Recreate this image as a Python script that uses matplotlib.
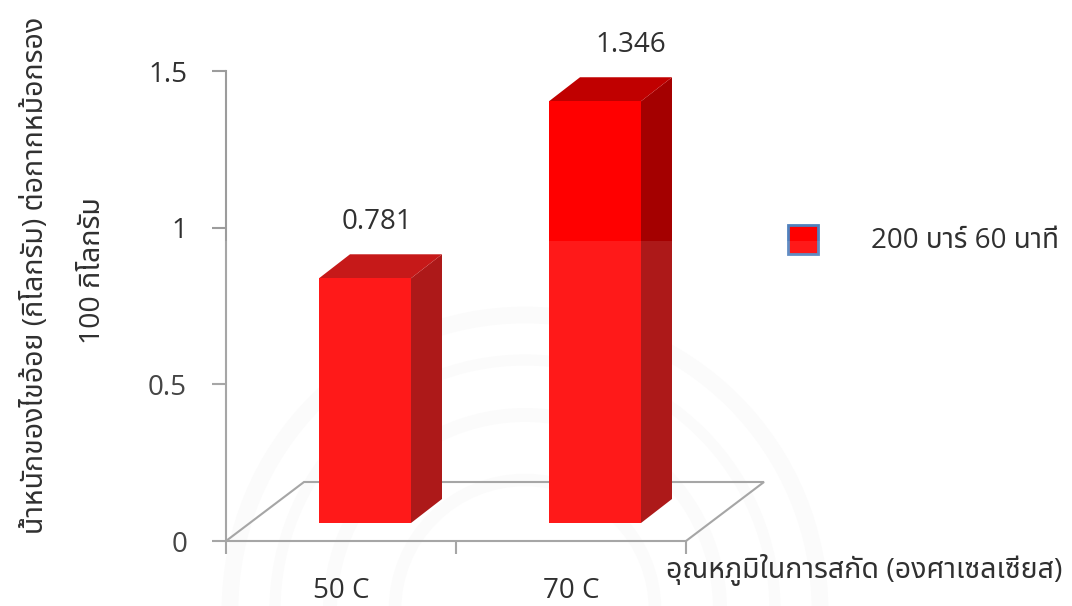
import matplotlib
matplotlib.use("Agg")
import matplotlib.pyplot as plt
from matplotlib.patches import Circle, Polygon, Rectangle
import logging
logging.getLogger("matplotlib.font_manager").setLevel(logging.ERROR)

# ---- data ----
categories = ["50 C", "70 C"]
values = [0.781, 1.346]
value_labels = ["0.781", "1.346"]
yticks = [0, 0.5, 1, 1.5]
ytick_labels = ["0", "0.5", "1", "1.5"]
series_name = "200 บาร์ 60 นาที"
xlabel = "อุณหภูมิในการสกัด (องศาเซลเซียส)"
ylabel = "น้ำหนักของไขอ้อย (กิโลกรัม) ต่อกากหม้อกรอง"
ylabel2 = "100 กิโลกรัม"

plt.rcParams["font.family"] = ["Open Sans", "Noto Sans Thai", "DejaVu Sans"]

W, H = 1072, 606
fig = plt.figure(figsize=(W / 100, H / 100), dpi=100)
L, R, T, B = 226, 686, 71, 541
ax = fig.add_axes([L / W, 1 - B / H, (R - L) / W, (B - T) / H])
ax.set_xlim(0, 2)
ax.set_ylim(0, 1.5)
ax.patch.set_alpha(0)
GREY = "#9c9c9c"
TXT = "#303030"
for s in ("top", "right"):
    ax.spines[s].set_visible(False)
for s in ("left", "bottom"):
    ax.spines[s].set_color(GREY)
    ax.spines[s].set_linewidth(1.5)
ax.set_yticks(yticks, ytick_labels, fontsize=20, color=TXT)
ax.tick_params(axis="y", length=10, width=1.5, color=GREY, direction="out", pad=18)
ax.set_xticks([0, 1, 2], [])
ax.tick_params(axis="x", length=9, width=1.5, color=GREY)

# faint seal of the scanned page behind the chart
for r, lw in [(295, 12), (250, 8), (195, 10), (130, 9)]:
    fig.add_artist(Circle((525, H - 610), r, fill=False, ec="#fbfbfb", lw=lw, transform=None, zorder=0))

base = ax.transData
floor_dx, floor_dy = 78, 59
x0, y0 = base.transform((0, 0))
x2, y2 = base.transform((2, 0))
fig.add_artist(Polygon([(x0, y0), (x0 + floor_dx, y0 + floor_dy), (x2 + floor_dx, y2 + floor_dy), (x2, y2)],
                       closed=False, fill=False, edgecolor=GREY, lw=1.5, transform=None, zorder=1))

# bars
bar_w_units = 92 / 230
front_dx, front_dy = 24, 18
depth_dx, depth_dy = 31, 24
label_shift = [(12, 18), (36, 18)]
for i, (v, lab) in enumerate(zip(values, value_labels)):
    c = i + 0.5
    xl, yb = base.transform((c - bar_w_units / 2, 0))
    xr, yt = base.transform((c + bar_w_units / 2, v))
    xl += front_dx; xr += front_dx; yb += front_dy; yt += front_dy
    fig.add_artist(Polygon([(xr, yb), (xr + depth_dx, yb + depth_dy), (xr + depth_dx, yt + depth_dy), (xr, yt)],
                           fc="#a40000", ec="none", transform=None, zorder=3))
    fig.add_artist(Polygon([(xl, yt), (xr, yt), (xr + depth_dx, yt + depth_dy), (xl + depth_dx, yt + depth_dy)],
                           fc="#c00000", ec="none", transform=None, zorder=3))
    fig.add_artist(Polygon([(xl, yb), (xr, yb), (xr, yt), (xl, yt)],
                           fc="#ff0000", ec="none", transform=None, zorder=4))
    sx, sy = label_shift[i]
    fig.text(((xl + xr) / 2 + sx) / W, (yt + depth_dy + sy) / H, lab, fontsize=20, color=TXT,
             ha="center", va="bottom", zorder=6)
    fig.text((c * 230 + L) / W, 1 - 591 / H, categories[i], fontsize=20, color=TXT,
             ha="center", va="center", zorder=6)

# legend
fig.add_artist(Rectangle((788 / W, 1 - 254 / H), 30 / W, 29 / H, fc="#ff0000", ec="#4f81bd",
                         lw=2, transform=fig.transFigure, zorder=5))
fig.text(871 / W, 1 - 241 / H, series_name, fontsize=20, color=TXT, ha="left", va="center", zorder=6)

# axis titles
fig.text(666 / W, 1 - 570 / H, xlabel, fontsize=20.5, color=TXT, ha="left", va="center", zorder=6)
fig.text(36 / W, 1 - 275 / H, ylabel, fontsize=20.5, color=TXT, rotation=90, ha="center", va="center", zorder=6)
fig.text(93 / W, 1 - 271 / H, ylabel2, fontsize=20.5, color=TXT, rotation=90, ha="center", va="center", zorder=6)

# pale veil of the scanned page over the lower part
fig.add_artist(Rectangle((0, 0), 1, 1 - 241 / H, fc="white", ec="none", alpha=0.1,
                         transform=fig.transFigure, zorder=5))

fig.savefig("out.png", dpi=100)
